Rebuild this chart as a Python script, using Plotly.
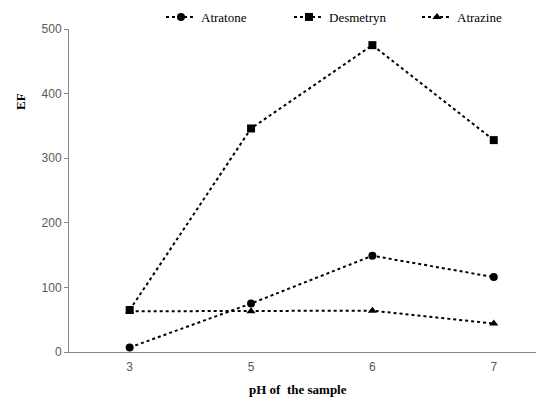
import plotly.graph_objects as go

ph = ["3", "5", "6", "7"]
atratone = [7, 75, 149, 116]
desmetryn = [65, 346, 475, 328]
atrazine = [63, 63, 64, 44]
y_ticks = [0, 100, 200, 300, 400, 500]

L, R, T, B = 61, 0, 21, 53
FW, FH = 544, 397
W = FW - L - R
H = FH - T - B

def px(x):
    return (x - L) / W

def py(y):
    return (FH - B - y) / H

fig = go.Figure()
series = [
    ("Atratone", atratone, "circle", 8),
    ("Desmetryn", desmetryn, "square", 8),
    ("Atrazine", atrazine, "triangle-up", 8),
]
for name, vals, sym, sz in series:
    fig.add_trace(go.Scatter(
        x=ph, y=vals, name=name, mode="lines+markers",
        line=dict(color="black", width=2, dash="dot"),
        marker=dict(symbol=sym, size=sz, color="black"),
    ))

fig.update_layout(
    width=FW, height=FH,
    margin=dict(l=L, r=R, t=T, b=B, autoexpand=False),
    plot_bgcolor="white", paper_bgcolor="white",
    showlegend=True,
    legend=dict(orientation="h", x=px(153), xanchor="left", y=py(9), yanchor="middle",
                font=dict(family="Liberation Serif", size=13, color="black"),
                entrywidth=83, entrywidthmode="pixels", tracegroupgap=0,
                bgcolor="rgba(0,0,0,0)"),
    xaxis=dict(type="category", range=[-0.5, 3.48], showline=True, linecolor="#868686",
               linewidth=1, ticks="outside", ticklen=4, tickcolor="rgba(0,0,0,0)",
               showgrid=False, zeroline=False,
               tickfont=dict(family="Liberation Sans", size=12, color="#595959")),
    yaxis=dict(range=[0, 500], tickvals=y_ticks, showline=True, linecolor="#868686",
               linewidth=1, ticks="outside", ticklen=4, tickcolor="#868686",
               showgrid=False, zeroline=False,
               tickfont=dict(family="Liberation Sans", size=12, color="#595959")),
    annotations=[
        dict(text="<b>EF</b>", x=px(13), y=py(94), xref="paper", yref="paper", showarrow=False,
             xanchor="center", yanchor="middle",
             font=dict(family="Liberation Serif", size=13, color="black"), textangle=-90),
        dict(text="<b>pH of  the sample</b>", x=px(290), y=py(381), xref="paper", yref="paper",
             xanchor="center", yanchor="middle",
             showarrow=False, font=dict(family="Liberation Serif", size=13, color="black")),
    ],
)

fig.write_html("out.html")
